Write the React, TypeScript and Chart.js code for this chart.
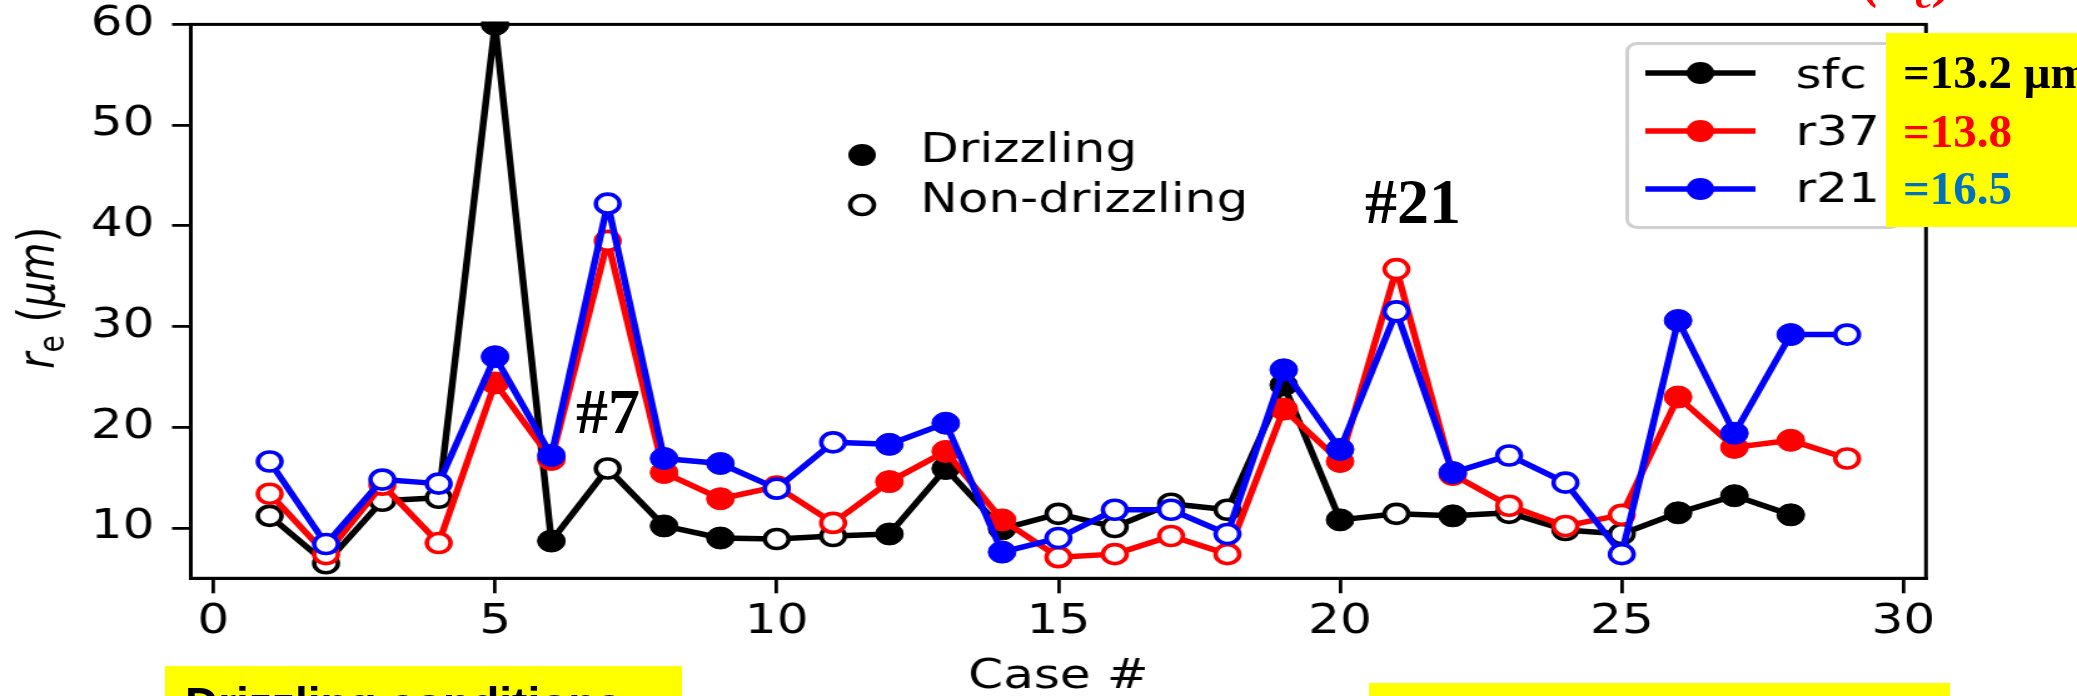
import React, { useEffect, useRef } from "react";
import { Chart, registerables } from "chart.js";

Chart.register(...registerables);

// ---------------- data ----------------
const cases = [1, 2, 3, 4, 5, 6, 7, 8, 9, 10, 11, 12, 13, 14, 15, 16, 17, 18, 19, 20, 21, 22, 23, 24, 25, 26, 27, 28, 29];
const drizzling = [false, false, false, false, true, true, false, true, true, false, false, true, true, true, false, false, false, false, true, true, false, true, false, false, false, true, true, true, false];
const sfc = [11.2, 6.5, 12.7, 13.0, 60, 8.7, 15.9, 10.2, 9.0, 8.9, 9.2, 9.4, 15.9, 9.9, 11.4, 10.1, 12.4, 11.8, 24.2, 10.8, 11.4, 11.2, 11.5, 9.8, 9.4, 11.5, 13.2, 11.3, null];
const r37 = [13.4, 7.4, 14.3, 8.5, 24.4, 16.8, 38.5, 15.5, 12.9, 14.1, 10.5, 14.6, 17.6, 10.8, 7.1, 7.4, 9.2, 7.4, 21.8, 16.6, 35.7, 15.3, 12.2, 10.2, 11.3, 23.0, 18.0, 18.7, 16.9];
const r21 = [16.6, 8.4, 14.8, 14.4, 27.0, 17.2, 42.2, 16.9, 16.4, 13.9, 18.5, 18.3, 20.4, 7.6, 9.0, 11.8, 11.8, 9.4, 25.7, 17.8, 31.5, 15.5, 17.2, 14.5, 7.4, 30.6, 19.4, 29.2, 29.2];
const xTicks = [0, 5, 10, 15, 20, 25, 30];
const yTicks = [10, 20, 30, 40, 50, 60];
const seriesNames = ["sfc", "r37", "r21"];
const seriesMeans = ["=13.2 μm", "=13.8", "=16.5"];
const markerLegend = ["Drizzling", "Non-drizzling"];
const xTitle = "Case #";
const caseNotes = ["#7", "#21"];
const bottomNote = "Drizzling conditions";

// ---------------- geometry (internal canvas is stretched horizontally) ----------------
const FULL_W = 2077;
const H = 696;
const W = 1660;
const FONT = '"DejaVu Sans"';
const COLORS = ["#000000", "#ff0000", "#0000ff"];
const R_FILLED = 11;
const R_OPEN = 9.5;
const OPEN_BW = 3.6;
const LINE_W = 5.5;

function makeDataset(label: string, values: (number | null)[], color: string, order: number) {
  return {
    label,
    data: values.map((v, i) => ({ x: cases[i], y: v })),
    borderColor: color,
    backgroundColor: color,
    borderWidth: LINE_W,
    borderJoinStyle: "round" as const,
    tension: 0,
    pointRadius: drizzling.map((d) => (d ? R_FILLED : R_OPEN)),
    pointHoverRadius: drizzling.map((d) => (d ? R_FILLED : R_OPEN)),
    pointBorderWidth: drizzling.map((d) => (d ? 1 : OPEN_BW)),
    pointBackgroundColor: drizzling.map((d) => (d ? color : "#ffffff")),
    pointBorderColor: color,
    order,
    clip: 3,
  };
}

const overlayPlugin = {
  id: "mplOverlay",
  afterDraw(chart: any) {
    const { ctx, chartArea } = chart;
    const { left, right, top, bottom } = chartArea;
    ctx.save();
    // spines
    ctx.strokeStyle = "#000";
    ctx.lineWidth = 3;
    ctx.strokeRect(left, top, right - left, bottom - top);

    // y axis title: r_e (μm)
    ctx.translate(43, 298);
    ctx.rotate(-Math.PI / 2);
    ctx.fillStyle = "#000";
    ctx.textBaseline = "alphabetic";
    const parts = [
      { t: "r", f: `italic 40px ${FONT}`, dy: 0 },
      { t: "e", f: `28px ${FONT}`, dy: 8 },
      { t: " ", f: `40px ${FONT}`, dy: 0 },
      { t: "(", f: `40px ${FONT}`, dy: 0 },
      { t: "μm", f: `italic 40px ${FONT}`, dy: 0 },
      { t: ")", f: `40px ${FONT}`, dy: 0 },
    ];
    let total = 0;
    const widths = parts.map((p) => {
      ctx.font = p.f;
      const w = ctx.measureText(p.t).width;
      total += w;
      return w;
    });
    let x = -total / 2;
    parts.forEach((p, i) => {
      ctx.font = p.f;
      ctx.fillText(p.t, x, p.dy);
      x += widths[i];
    });
    ctx.restore();

    // Drizzling / Non-drizzling legend
    ctx.save();
    ctx.font = `40px ${FONT}`;
    ctx.fillStyle = "#000";
    ctx.textBaseline = "alphabetic";
    const mx = 689;
    const my = [155, 205];
    const by = [162, 212];
    ctx.beginPath();
    ctx.arc(mx, my[0], R_FILLED, 0, Math.PI * 2);
    ctx.fill();
    ctx.beginPath();
    ctx.arc(mx, my[1], R_OPEN, 0, Math.PI * 2);
    ctx.fillStyle = "#fff";
    ctx.fill();
    ctx.lineWidth = OPEN_BW;
    ctx.strokeStyle = "#000";
    ctx.stroke();
    ctx.fillStyle = "#000";
    ctx.fillText(markerLegend[0], 735.5, by[0]);
    ctx.fillText(markerLegend[1], 735.5, by[1]);
    ctx.restore();

    // series legend box
    ctx.save();
    ctx.beginPath();
    ctx.roundRect(1300.5, 43.5, 218, 184, 8);
    ctx.fillStyle = "rgba(255,255,255,0.9)";
    ctx.fill();
    ctx.strokeStyle = "#d0d0d0";
    ctx.lineWidth = 3;
    ctx.stroke();
    const ly = [73, 131, 189];
    const lb = [88, 145, 202];
    seriesNames.forEach((name, i) => {
      ctx.strokeStyle = COLORS[i];
      ctx.lineWidth = LINE_W;
      ctx.beginPath();
      ctx.moveTo(1315, ly[i]);
      ctx.lineTo(1403, ly[i]);
      ctx.stroke();
      ctx.beginPath();
      ctx.arc(1359, ly[i], R_FILLED, 0, Math.PI * 2);
      ctx.fillStyle = COLORS[i];
      ctx.fill();
      ctx.fillStyle = "#000";
      ctx.font = `40px ${FONT}`;
      ctx.textBaseline = "alphabetic";
      ctx.fillText(name, 1435, lb[i]);
    });
    ctx.restore();
  },
};

export default function App() {
  const canvasRef = useRef<HTMLCanvasElement | null>(null);

  useEffect(() => {
    if (!canvasRef.current) return;
    const chart = new Chart(canvasRef.current, {
      type: "line",
      data: {
        datasets: [
          makeDataset(seriesNames[0], sfc, COLORS[0], 3),
          makeDataset(seriesNames[1], r37, COLORS[1], 2),
          makeDataset(seriesNames[2], r21, COLORS[2], 1),
        ] as any,
      },
      options: {
        responsive: false,
        devicePixelRatio: 1,
        animation: false,
        events: [],
        layout: { padding: { top: 24.4, right: 120.7, bottom: 0, left: 0 } },
        plugins: { legend: { display: false }, tooltip: { enabled: false }, title: { display: false } },
        scales: {
          x: {
            type: "linear",
            min: -0.4,
            max: 30.4,
            afterBuildTicks: (scale: any) => {
              scale.ticks = xTicks.map((v) => ({ value: v }));
            },
            afterFit: (scale: any) => {
              scale.height = 117.7;
              scale.paddingLeft = 0;
              scale.paddingRight = 0;
            },
            ticks: {
              color: "#000",
              font: { family: FONT, size: 40 },
              padding: 5,
              maxRotation: 0,
              autoSkip: false,
              callback: (v: any) => String(v),
            },
            grid: { display: true, drawOnChartArea: false, drawTicks: true, tickLength: 15, color: "#000", lineWidth: 2.8 },
            border: { display: true, color: "#000", width: 3 },
            title: {
              display: true,
              text: xTitle,
              color: "#000",
              font: { family: FONT, size: 40, lineHeight: 0.9 },
              padding: { top: 0, bottom: 0 },
            },
          },
          y: {
            type: "linear",
            min: 5,
            max: 60,
            afterBuildTicks: (scale: any) => {
              scale.ticks = yTicks.map((v) => ({ value: v }));
            },
            afterFit: (scale: any) => {
              scale.width = 152.5;
              scale.paddingTop = 0;
              scale.paddingBottom = 0;
            },
            ticks: {
              color: "#000",
              font: { family: FONT, size: 40, lineHeight: 0.4 },
              padding: 14,
              autoSkip: false,
              callback: (v: any) => String(v),
            },
            grid: { display: true, drawOnChartArea: false, drawTicks: true, tickLength: 15, color: "#000", lineWidth: 2.8 },
            border: { display: true, color: "#000", width: 3 },
          },
        },
      },
      plugins: [overlayPlugin],
    } as any);
    return () => chart.destroy();
  }, []);

  const serif = '"Liberation Serif", "Times New Roman", serif';
  return (
    <div style={{ position: "fixed", left: 0, top: 0, width: FULL_W, height: H, background: "#fff", overflow: "hidden" }}>
      <canvas
        ref={canvasRef}
        width={W}
        height={H}
        style={{ position: "absolute", left: 0, top: 0, width: `${FULL_W}px`, height: `${H}px`, display: "block" }}
      />
      <svg
        width={FULL_W}
        height={H}
        style={{ position: "absolute", left: 0, top: 0, overflow: "hidden" }}
        xmlns="http://www.w3.org/2000/svg"
      >
        <rect x={1886} y={33} width={191} height={194} fill="#ffff00" />
        <text x={1903} y={88} fontFamily={serif} fontWeight="bold" fontSize={47} fill="#000000">{seriesMeans[0]}</text>
        <text x={1903} y={146.7} fontFamily={serif} fontWeight="bold" fontSize={47} fill="#ff0000">{seriesMeans[1]}</text>
        <text x={1903} y={204} fontFamily={serif} fontWeight="bold" fontSize={47} fill="#0070c0">{seriesMeans[2]}</text>

        <text x={576} y={433} fontFamily={serif} fontWeight="bold" fontSize={64} fill="#000">{caseNotes[0]}</text>
        <text x={1365} y={223} fontFamily={serif} fontWeight="bold" fontSize={64} fill="#000">{caseNotes[1]}</text>

        <text x={1862} y={-4} fontFamily={serif} fontWeight="bold" fontStyle="italic" fontSize={56} fill="#ff0000">(r</text>
        <text x={1915} y={8} fontFamily={serif} fontWeight="bold" fontStyle="italic" fontSize={40} fill="#ff0000">e</text>
        <text x={1937} y={-4} fontFamily={serif} fontWeight="bold" fontStyle="italic" fontSize={56} fill="#ff0000">)</text>

        <rect x={165} y={666} width={517} height={40} fill="#ffff00" />
        <text x={185} y={720} fontFamily='"Liberation Sans", Arial, sans-serif' fontWeight="bold" fontSize={46} fill="#000">{bottomNote}</text>
        <rect x={1369} y={683} width={581} height={20} fill="#ffff00" />
      </svg>
    </div>
  );
}
